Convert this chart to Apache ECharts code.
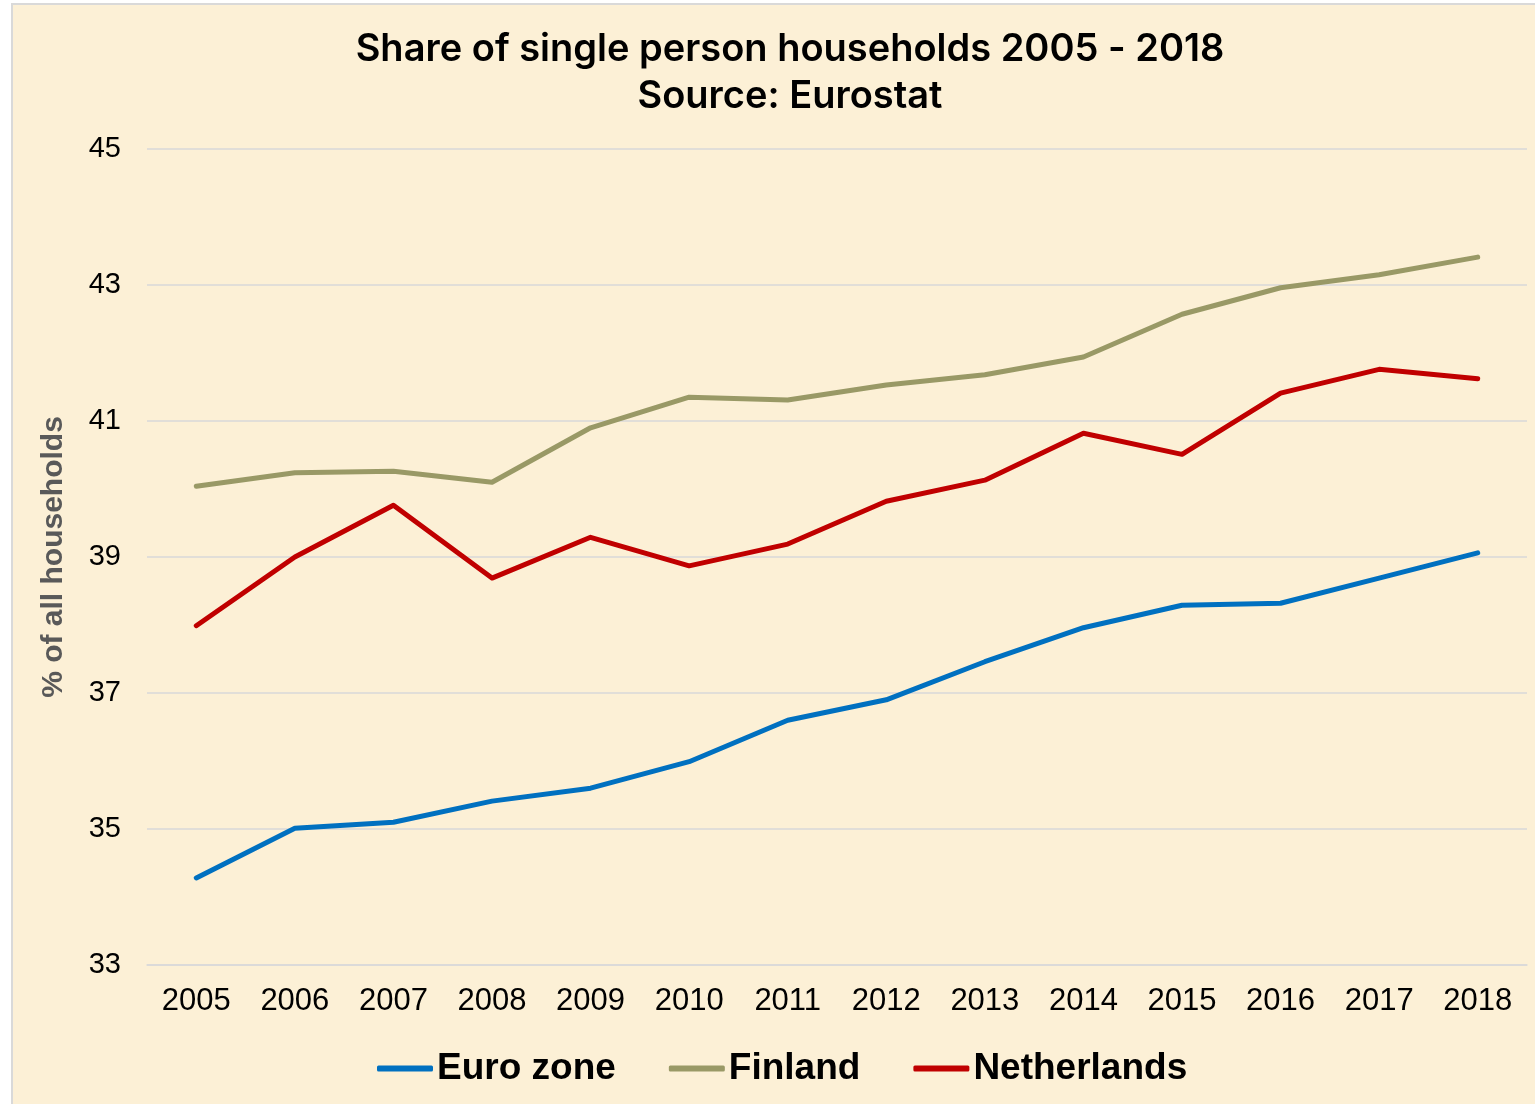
<!DOCTYPE html>
<html>
<head>
<meta charset="utf-8">
<script src="https://cdn.jsdelivr.net/npm/echarts@6/dist/echarts.min.js"></script>
<style>
  html, body { margin: 0; padding: 0; background: #ffffff; }
  .frame {
    position: absolute; left: 11px; top: 3px; right: 0; bottom: 0;
    border-left: 2px solid #d9d9d9; border-top: 2px solid #d9d9d9;
    background: #fcf0d6;
  }
  #chart { position: absolute; left: 0; top: 0; width: 1535px; height: 1104px; }
</style>
</head>
<body>
<div class="frame"></div>
<div id="chart"></div>
<script>
  // years on the x axis
  const years = ["2005", "2006", "2007", "2008", "2009", "2010", "2011",
    "2012", "2013", "2014", "2015", "2016", "2017", "2018"];

  // % of all households
  const euroZone = [34.28, 35.01, 35.1, 35.41, 35.6, 35.99, 36.6,
    36.9, 37.46, 37.96, 38.29, 38.32, 38.69, 39.06];
  const finland = [40.04, 40.24, 40.26, 40.1, 40.9, 41.35, 41.31,
    41.53, 41.68, 41.94, 42.57, 42.96, 43.15, 43.41];
  const netherlands = [37.99, 39.0, 39.76, 38.69, 39.29, 38.87, 39.19,
    39.82, 40.13, 40.82, 40.51, 41.41, 41.76, 41.62];

  const chart = echarts.init(document.getElementById("chart"), null, { renderer: "canvas" });

  const lineSeries = (name, data, color) => ({
    name: name,
    type: "line",
    data: data,
    symbol: "none",
    lineStyle: { color: color, width: 5, cap: "round", join: "round" },
    itemStyle: { color: color },
  });

  chart.setOption({
    animation: false,
    title: {
      text: "Share of single person households 2005 - 2018\nSource: Eurostat",
      left: 785,
      top: 21,
      textAlign: "center",
      textStyle: {
        fontFamily: "Inter",
        fontWeight: 600,
        fontSize: 38,
        lineHeight: 47,
        color: "#000000",
      },
    },
    legend: {
      bottom: 12,
      left: 372,
      itemWidth: 56,
      itemHeight: 6,
      itemGap: 53,
      icon: "roundRect",
      textStyle: {
        fontFamily: "Liberation Sans",
        fontWeight: "bold",
        fontSize: 37,
        color: "#000000",
        padding: [0, 0, 0, -1],
      },
      data: ["Euro zone", "Finland", "Netherlands"],
    },
    grid: {
      top: 149,
      bottom: 139,
      left: 147,
      right: 8,
      containLabel: false,
    },
    xAxis: {
      type: "category",
      data: years,
      boundaryGap: true,
      axisLine: { show: true, lineStyle: { color: "#d9d9d9", width: 1.5 } },
      axisTick: { show: false },
      axisLabel: {
        fontFamily: "Liberation Sans",
        fontSize: 31,
        color: "#000000",
        margin: 21,
      },
    },
    yAxis: {
      type: "value",
      min: 33,
      max: 45,
      interval: 2,
      name: "% of all households",
      nameLocation: "middle",
      nameGap: 78,
      nameTextStyle: {
        fontFamily: "Liberation Sans",
        fontWeight: "bold",
        fontSize: 30,
        color: "#595959",
      },
      axisLine: { show: false },
      axisTick: { show: false },
      splitLine: { lineStyle: { color: "#d9d9d9", width: 1.5 } },
      axisLabel: {
        fontFamily: "Liberation Sans",
        fontSize: 29,
        color: "#000000",
        margin: 26,
      },
    },
    series: [
      lineSeries("Euro zone", euroZone, "#0070c0"),
      lineSeries("Finland", finland, "#999966"),
      lineSeries("Netherlands", netherlands, "#c00000"),
    ],
  });
</script>
</body>
</html>
